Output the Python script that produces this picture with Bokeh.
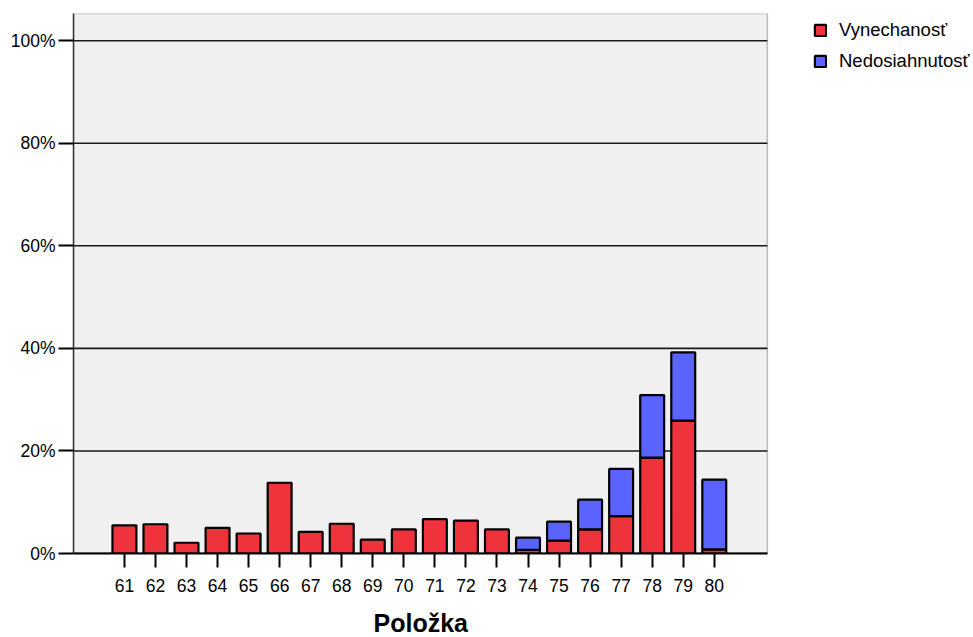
from bokeh.plotting import figure
from bokeh.models import Range1d, FixedTicker, PrintfTickFormatter, Legend, LegendItem, BoxAnnotation, Title
from bokeh.embed import file_html
from bokeh.resources import INLINE

items = [61, 62, 63, 64, 65, 66, 67, 68, 69, 70, 71, 72, 73, 74, 75, 76, 77, 78, 79, 80]
vynechanost = [5.5, 5.7, 2.1, 5.0, 3.9, 13.8, 4.2, 5.8, 2.7, 4.7, 6.7, 6.4, 4.7, 0.7, 2.5, 4.7, 7.3, 18.7, 25.9, 0.8]
nedosiahnutost = [0, 0, 0, 0, 0, 0, 0, 0, 0, 0, 0, 0, 0, 2.4, 3.7, 5.8, 9.2, 12.2, 13.3, 13.6]
y_ticks = [0, 20, 40, 60, 80, 100]
series_names = ["Vynechanosť", "Nedosiahnutosť"]
x_title = "Položka"

RED = "#EF333D"
BLUE = "#5A63FE"
FONT = "Liberation Sans"

# plot-area limits in data units (x: item axis, y: percent)
X0, X1 = 59.36, 81.71
Y0, Y1 = 0, 105.3

p = figure(width=973, height=637, output_backend="svg", toolbar_location=None,
           x_range=Range1d(X0, 88.35), y_range=Range1d(Y0, Y1),
           min_border_left=73, min_border_right=0, min_border_top=13, min_border_bottom=84)

p.background_fill_color = "white"
p.border_fill_color = "white"
p.outline_line_color = None

p.add_layout(BoxAnnotation(left=X0, right=X1, bottom=Y0, top=Y1,
                           fill_color="#F0F0F0", fill_alpha=1,
                           line_color="#333333", line_width=1.5, level="image"))

# horizontal grid lines limited to the plot area
p.segment(x0=[X0] * len(y_ticks), x1=[X1] * len(y_ticks), y0=y_ticks, y1=y_ticks,
          line_color="#1a1a1a", line_width=1.6)

red_r = p.vbar(x=items, top=vynechanost, bottom=0, width=0.77,
               fill_color=RED, line_color="black", line_width=2.2)
bx = [x for x, b in zip(items, nedosiahnutost) if b > 0]
bb = [r for r, b in zip(vynechanost, nedosiahnutost) if b > 0]
bt = [r + b for r, b in zip(vynechanost, nedosiahnutost) if b > 0]
blue_r = p.vbar(x=bx, top=bt, bottom=bb, width=0.77,
                fill_color=BLUE, line_color="black", line_width=2.2)

p.xgrid.visible = False
p.ygrid.visible = False

# x axis
p.xaxis.bounds = (X0, X1)
p.xaxis.ticker = FixedTicker(ticks=items)
p.xaxis.axis_line_color = "black"
p.xaxis.axis_line_width = 2
p.xaxis.major_tick_line_color = "black"
p.xaxis.major_tick_line_width = 2
p.xaxis.major_tick_out = 14
p.xaxis.major_tick_in = 0
p.xaxis.minor_tick_line_color = None
p.xaxis.major_label_text_font = FONT
p.xaxis.major_label_text_font_size = "17.5px"
p.xaxis.major_label_text_color = "black"
p.xaxis.major_label_standoff = 11
# invisible spacer label on the axis (the real title is added below)
p.xaxis.axis_label = " "
p.xaxis.axis_label_text_font_size = "1px"
p.xaxis.axis_label_standoff = 8

# x axis title, centred under the plot area
p.add_layout(Title(text=x_title, align="left", offset=300, standoff=0,
                   text_font=FONT, text_font_style="bold", text_font_size="25px",
                   text_color="black"), "below")

# y axis
p.yaxis.ticker = FixedTicker(ticks=y_ticks)
p.yaxis.formatter = PrintfTickFormatter(format="%d%%")
p.yaxis.axis_line_color = "#333333"
p.yaxis.axis_line_width = 1.5
p.yaxis.major_tick_line_color = "black"
p.yaxis.major_tick_line_width = 2
p.yaxis.major_tick_out = 15
p.yaxis.major_tick_in = 0
p.yaxis.minor_tick_line_color = None
p.yaxis.major_label_text_font = FONT
p.yaxis.major_label_text_font_size = "17.5px"
p.yaxis.major_label_text_color = "black"
p.yaxis.major_label_standoff = 3

legend = Legend(items=[LegendItem(label=series_names[0], renderers=[red_r]),
                       LegendItem(label=series_names[1], renderers=[blue_r])],
                location=(740, 481))
legend.glyph_width = 14
legend.glyph_height = 14
legend.label_standoff = 12
legend.label_height = 22
legend.spacing = 9
legend.padding = 0
legend.margin = 0
legend.border_line_alpha = 0
legend.background_fill_alpha = 0
legend.label_text_font = FONT
legend.label_text_font_size = "18.5px"
legend.label_text_color = "black"
p.add_layout(legend, "center")

open("out.html", "w").write(file_html(p, INLINE))
